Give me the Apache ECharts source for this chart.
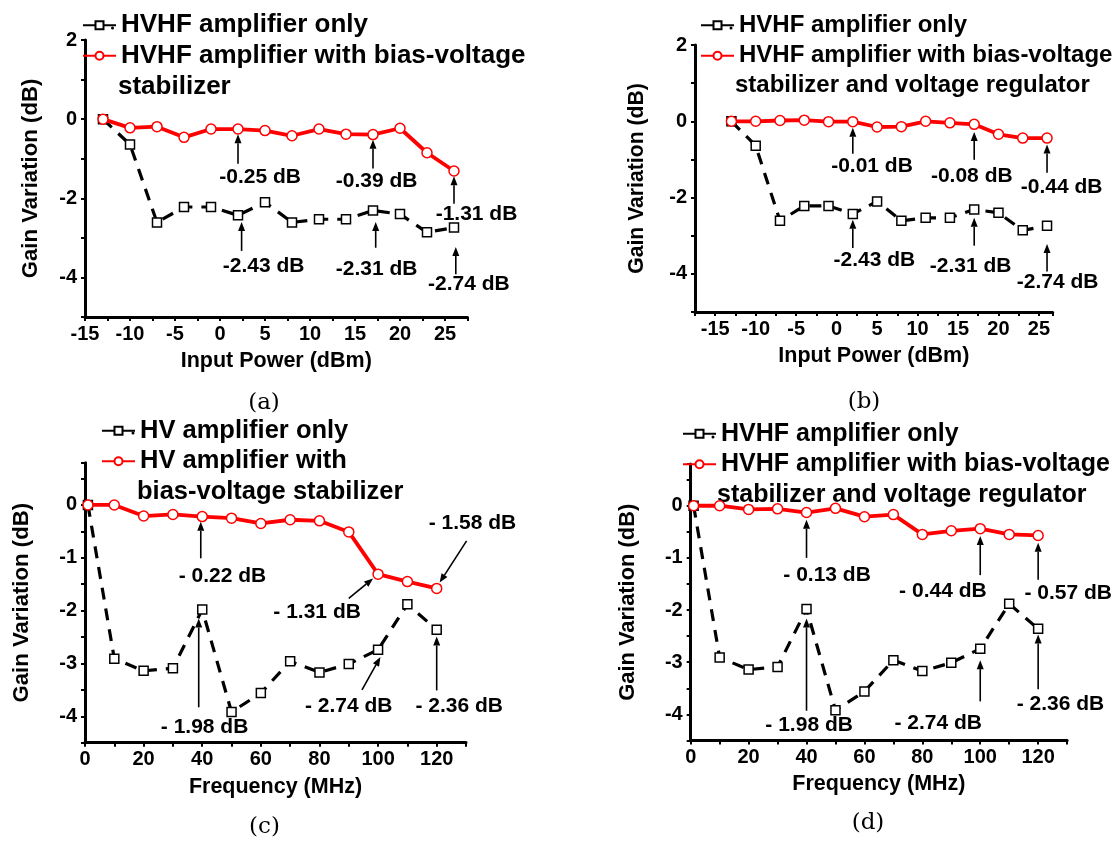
<!DOCTYPE html>
<html><head><meta charset="utf-8">
<script src="https://cdn.jsdelivr.net/npm/echarts@6/dist/echarts.min.js"></script>
<style>html,body{margin:0;padding:0;background:#fff}#c{width:1118px;height:841px}</style>
</head><body><div id="c"></div>
<script>
// ---- data ----
const powerX = [-13,-10,-7,-4,-1,2,5,8,11,14,17,20,23,26];
const ampOnlyPower = [0,-0.64,-2.61,-2.22,-2.22,-2.43,-2.1,-2.61,-2.53,-2.53,-2.31,-2.4,-2.86,-2.74];
const biasStabPower = [0,-0.22,-0.19,-0.46,-0.25,-0.25,-0.29,-0.42,-0.25,-0.38,-0.39,-0.23,-0.85,-1.31];
const biasRegPower = [0,0,0.02,0.03,-0.01,-0.01,-0.15,-0.14,0,-0.04,-0.08,-0.34,-0.44,-0.44];
const freqX = [1,10,20,30,40,50,60,70,80,90,100,110,120];
const ampOnlyFreq = [0,-2.91,-3.14,-3.09,-1.98,-3.92,-3.56,-2.96,-3.17,-3.01,-2.74,-1.88,-2.36];
const biasStabFreq = [0,0,-0.21,-0.18,-0.22,-0.25,-0.35,-0.28,-0.3,-0.51,-1.31,-1.45,-1.58];
const biasRegFreq = [0,0,-0.07,-0.06,-0.13,-0.05,-0.21,-0.17,-0.55,-0.48,-0.44,-0.55,-0.57];

// annotations: [tailX, tailY, tipX, tipY, textX, textY]
const annA = [[2,-1.125,2,-0.38,4.45,-1.46],[17,-1.25,17,-0.52,17.4,-1.58],[26,-2.14,26,-1.44,28.5,-2.39],
  [2.4,-3.33,2.4,-2.6,4.84,-3.71],[17.3,-3.25,17.3,-2.6,17.4,-3.78],[26.2,-3.92,26.2,-3.23,27.65,-4.18]];
const annALabels = ['-0.25 dB','-0.39 dB','-1.31 dB','-2.43 dB','-2.31 dB','-2.74 dB'];
const annB = [[2,-0.85,2,-0.17,4.37,-1.19],[17,-1.01,17,-0.28,16.7,-1.45],[26,-1.35,26,-0.61,27.8,-1.74],
  [2,-3.32,2,-2.58,4.67,-3.64],[17,-3.26,17,-2.53,16.56,-3.81],[26,-3.94,26,-3.22,27.3,-4.23]];
const annBLabels = ['-0.01 dB','-0.08 dB','-0.44 dB','-2.43 dB','-2.31 dB','-2.74 dB'];
const annC = [[39.5,-1.01,39.5,-0.32,46.9,-1.34],[90,-1.77,98.3,-1.39,79.2,-2.03],[130.2,-0.68,121,-1.47,132.2,-0.34],
  [38.8,-3.83,38.8,-2.15,40.8,-4.2],[94.5,-3.5,100.8,-2.88,90,-3.8],[120,-3.51,120,-2.49,127.7,-3.8]];
const annCLabels = ['- 0.22 dB','- 1.31 dB','- 1.58 dB','- 1.98 dB','- 2.74 dB','- 2.36 dB'];
const annD = [[40,-1.0,40,-0.27,47.1,-1.34],[100,-1.33,100,-0.58,87.1,-1.64],[120,-1.42,120,-0.71,130.4,-1.68],
  [40,-3.93,40,-2.16,40.9,-4.2],[100,-3.75,100,-2.96,85.5,-4.16],[120,-3.52,120,-2.47,127.7,-3.8]];
const annDLabels = ['- 0.13 dB','- 0.44 dB','- 0.57 dB','- 1.98 dB','- 2.74 dB','- 2.36 dB'];

const nameHVHFOnly = 'HVHF amplifier only';
const nameHVHFStab = 'HVHF amplifier with bias-voltage stabilizer';
const nameHVHFReg = 'HVHF amplifier with bias-voltage stabilizer and voltage regulator';
const nameHVOnly = 'HV amplifier only';
const nameHVStab = 'HV amplifier with bias-voltage stabilizer';
const legendFirstLine = {};
legendFirstLine[nameHVHFOnly] = 'HVHF amplifier only';
legendFirstLine[nameHVHFStab] = 'HVHF amplifier with bias-voltage';
legendFirstLine[nameHVHFReg] = 'HVHF amplifier with bias-voltage';
legendFirstLine[nameHVOnly] = 'HV amplifier only';
legendFirstLine[nameHVStab] = 'HV amplifier with';

// ---- styles ----
const FONT = '"Liberation Sans", Arial, sans-serif';
const zip = (xs, ys) => xs.map((x, i) => [x, ys[i]]);
function blackSeries(name, xs, ys, gi) {
  return {type:'line', name, xAxisIndex:gi, yAxisIndex:gi, data:zip(xs, ys), symbol:'rect', symbolSize:9,
    itemStyle:{color:'#fff', borderColor:'#000', borderWidth:1.5},
    lineStyle:{color:'#000', width:3.2, type:[12,9]}, z:2};
}
function redSeries(name, xs, ys, gi) {
  return {type:'line', name, xAxisIndex:gi, yAxisIndex:gi, data:zip(xs, ys), symbol:'circle', symbolSize:10,
    itemStyle:{color:'#fff', borderColor:'#f00', borderWidth:1.5},
    lineStyle:{color:'#f00', width:3.8}, z:3};
}
function annSeries(ann, labels, gi) {
  return {type:'custom', name:'ann'+gi, xAxisIndex:gi, yAxisIndex:gi, clip:false, silent:true, z:4,
    encode:{x:[0,2,4], y:[1,3,5]}, data:ann,
    renderItem: function(params, api) {
      const t = api.coord([api.value(0), api.value(1)]);
      const h = api.coord([api.value(2), api.value(3)]);
      const l = api.coord([api.value(4), api.value(5)]);
      const dx = h[0]-t[0], dy = h[1]-t[1], len = Math.hypot(dx, dy);
      const ux = dx/len, uy = dy/len, hl = 9, hw = 3.5;
      const b = [h[0]-ux*hl, h[1]-uy*hl];
      return {type:'group', children:[
        {type:'line', shape:{x1:t[0], y1:t[1], x2:b[0], y2:b[1]}, style:{stroke:'#000', lineWidth:1.6}},
        {type:'polygon', shape:{points:[h, [b[0]-uy*hw, b[1]+ux*hw], [b[0]+uy*hw, b[1]-ux*hw]]}, style:{fill:'#000'}},
        {type:'text', x:l[0], y:l[1], style:{text:labels[params.dataIndex], fill:'#000', fontSize:21,
          fontWeight:'bold', fontFamily:FONT, align:'center', verticalAlign:'middle'}}
      ]};
    }};
}
const tickLabel = {fontSize:20, fontWeight:'bold', fontFamily:FONT, color:'#000'};
function xAxis(gi, min, max, interval, step, name) {
  return {type:'value', gridIndex:gi, min, max, interval, name, nameLocation:'middle', nameGap:33,
    nameTextStyle:{fontSize:21.5, fontWeight:'bold', fontFamily:FONT, color:'#000'},
    axisLine:{onZero:false, lineStyle:{color:'#000', width:3}},
    axisTick:{show:true, length:4, lineStyle:{color:'#000', width:2}},
    axisLabel:Object.assign({margin:7, interval:0, formatter:v => (Math.abs(v % step) < 1e-9 ? String(v) : '')}, tickLabel),
    splitLine:{show:false}};
}
function yAxis(gi, min, max, interval, step, nameGap, nameSize) {
  return {type:'value', gridIndex:gi, min, max, interval, name:'Gain Variation (dB)', nameLocation:'middle', nameGap,
    nameRotate:90, nameTextStyle:{fontSize:nameSize, fontWeight:'bold', fontFamily:FONT, color:'#000'},
    axisLine:{onZero:false, lineStyle:{color:'#000', width:3}},
    axisTick:{show:true, length:4, lineStyle:{color:'#000', width:2}},
    axisLabel:Object.assign({margin:8, interval:0, formatter:v => (Math.abs(v % step) < 1e-9 ? String(v) : '')}, tickLabel),
    splitLine:{show:false}};
}
function legend(left, top, names, size) {
  return {orient:'vertical', left, top, padding:0, itemGap:0, itemWidth:33, itemHeight:10, data:names,
    formatter: n => legendFirstLine[n],
    textStyle:{fontSize:size, fontWeight:'bold', fontFamily:FONT, color:'#000', lineHeight:30.5}};
}
function gtext(x, y, text, extra) {
  return {type:'text', x, y, style:Object.assign({text, fill:'#000', fontSize:24, fontWeight:'bold', fontFamily:FONT,
    align:'left', verticalAlign:'middle'}, extra || {})};
}
const serif = {fontFamily:'"DejaVu Serif", serif', fontWeight:'normal', fontSize:23, align:'center'};

const option = {
  animation:false,
  backgroundColor:'#fff',
  grid:[
    {left:85, top:40, width:382.5, height:277, outerBoundsMode:'none'},
    {left:695, top:45, width:357.7, height:267, outerBoundsMode:'none'},
    {left:85, top:462.7, width:381, height:280, outerBoundsMode:'none'},
    {left:690.7, top:464, width:376.4, height:276.5, outerBoundsMode:'none'}
  ],
  xAxis:[
    xAxis(0, -15, 27.5, 2.5, 5, 'Input Power (dBm)'),
    xAxis(1, -17.5, 26.7, 2.5, 5, 'Input Power (dBm)'),
    xAxis(2, 0, 130, 10, 20, 'Frequency (MHz)'),
    xAxis(3, 0, 130, 10, 20, 'Frequency (MHz)')
  ],
  yAxis:[
    yAxis(0, -5, 2, 1, 2, 43, 22.2),
    yAxis(1, -5, 2, 1, 2, 47, 21.2),
    yAxis(2, -4.5, 0.8, 0.5, 1, 52, 22.2),
    yAxis(3, -4.5, 0.8, 0.5, 1, 52, 21.9)
  ],
  legend:[
    legend(82, 10, [nameHVHFOnly, nameHVHFStab], 26),
    legend(700, 10, [nameHVHFOnly, nameHVHFReg], 24),
    legend(101, 415.5, [nameHVOnly, nameHVStab], 25.5),
    legend(682, 418.5, [nameHVHFOnly, nameHVHFReg], 25)
  ],
  graphic:[
    gtext(118, 87, 'stabilizer', {fontSize:26}),
    gtext(735, 85, 'stabilizer and voltage regulator', {fontSize:24}),
    gtext(137, 492, 'bias-voltage stabilizer', {fontSize:25.5}),
    gtext(717, 495, 'stabilizer and voltage regulator', {fontSize:25}),
    {type:'circle', shape:{cx:112.5, cy:28, r:1.5}, style:{fill:'#000'}},
    {type:'circle', shape:{cx:731, cy:28, r:1.5}, style:{fill:'#000'}},
    {type:'circle', shape:{cx:133, cy:433, r:1.5}, style:{fill:'#000'}},
    {type:'circle', shape:{cx:713, cy:437, r:1.5}, style:{fill:'#000'}},
    gtext(264, 403, '(a)', serif),
    gtext(864, 402, '(b)', serif),
    gtext(264.5, 826.7, '(c)', serif),
    gtext(868, 823.3, '(d)', serif)
  ],
  series:[
    blackSeries(nameHVHFOnly, powerX, ampOnlyPower, 0),
    redSeries(nameHVHFStab, powerX, biasStabPower, 0),
    annSeries(annA, annALabels, 0),
    blackSeries(nameHVHFOnly, powerX, ampOnlyPower, 1),
    redSeries(nameHVHFReg, powerX, biasRegPower, 1),
    annSeries(annB, annBLabels, 1),
    blackSeries(nameHVOnly, freqX, ampOnlyFreq, 2),
    redSeries(nameHVStab, freqX, biasStabFreq, 2),
    annSeries(annC, annCLabels, 2),
    blackSeries(nameHVHFOnly, freqX, ampOnlyFreq, 3),
    redSeries(nameHVHFReg, freqX, biasRegFreq, 3),
    annSeries(annD, annDLabels, 3)
  ]
};
const chart = echarts.init(document.getElementById('c'), null, {renderer:'canvas'});
chart.setOption(option);
</script>
</body></html>
